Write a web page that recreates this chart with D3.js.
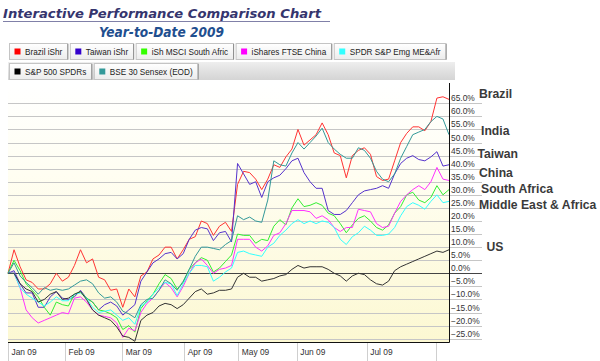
<!DOCTYPE html>
<html><head><meta charset="utf-8">
<script src="https://cdn.jsdelivr.net/npm/d3@7"></script>
<style>html,body{margin:0;padding:0;background:#fff;} svg{display:block;}</style>
</head><body><svg id="c" width="600" height="361"></svg>
<script>
// ---- data (percent change since 2 Jan 2009, sampled evenly over the trading period) ----
const brazil = [0,9,2.5,-2.5,-3.5,-6,-6,-4,0,-3,-1.5,3,9,4,5.5,-1.5,-2.5,-6.5,-6,-13,-6,-9,-1,0.5,5.5,7,10,10,5.5,9,13,14,20,19,14.5,18,19.5,16,34,39,38.5,36,32,36,41.5,40.5,44.5,47.5,55,49,51,53,57.5,53,46,45,36.5,45,47,48,45.5,37,35.5,36,43,50,53.5,56,56,54.5,58,67,67.5,66.5];
const taiwan = [0,1,-4,-7.5,-7.5,-13,-13,-9,-7,-9.5,-10,-9,-6.5,-9.5,-11,-14,-12,-11,-12.5,-16,-14,-12,-3,0.5,4,5.5,7.5,8,5.5,7.5,13,16.5,17.5,17,12.5,15.5,16,12,42,38,34,35,29,35,36.5,37.5,40,43,44,38.5,35,32.5,32.5,24,22.5,22.5,24,27,30,31.5,32,32.5,33.5,32.5,38,42,44,45,43.5,43,44.5,46.5,41,41.5];
const southAfrica = [0,5,1,-4,-6.5,-9,-13,-16,-11,-12,-12.5,-8,-7,-9.5,-11,-14,-14.5,-15.5,-17,-21.5,-20,-22.5,-13.5,-10.5,-8,-4,-0.5,-2,-6,-3.5,1.5,4,6,5,0.5,2,4.5,7,15,14.5,14.5,11.5,13,12.5,18,20.5,18.5,25,28.5,25.5,26,27,26,23,22,19,15.5,18.5,21,22,20,17.5,16.5,18.5,23,25.5,30,31,28,27,29,33.5,30,32];
const china = [0,0,-5.5,-14,-17,-19,-18,-17,-16,-15,-15.5,-9.5,-9,-11,-14,-16,-16.5,-17,-19,-24.5,-21,-22,-15,-11.5,-9.5,-6.5,-3.5,-5.5,-9,-5,0,4,5.5,3,0,1.5,2,3,13,13,13,10,8.5,10.5,14.5,15.5,19,24,24,24,23.5,21,22,20.5,17.5,16,17.5,17.5,24.5,24,23.5,19,17.5,18,23,27.5,30,32,33.5,32,35,40.5,36,35.5];
const meAfrica = [0,0,-5.5,-8,-9.5,-11,-12.5,-11,-9,-10.5,-10.5,-8,-7.5,-9.5,-13,-15,-14.5,-14,-16,-18,-17,-19.5,-12.5,-11,-8,-5.5,-3.5,-4,-8.5,-4,0,3,3,2.5,-3,-1.5,0.5,2,8,8.5,7.5,7,6.5,10,11.5,14.5,16.5,19,20.5,19,20,19,20,19.5,17.5,13,11,14,15.5,18,16.5,14.5,14.5,15,17.5,22,25.5,27,26,24.5,27.5,30,27,27.5];
const sp500 = [0,0,-4,-6,-7,-11,-10,-8,-7,-10,-9.5,-8,-7,-10,-14,-16,-17,-18,-20.5,-24,-24.5,-26,-18,-16,-15,-12.5,-11.5,-12,-13.5,-12,-9.5,-7,-6,-8,-7.5,-6.5,-6.5,-6,-1.5,0,-1.5,-1.5,-3,-2.5,-2,-1,-0.5,1.5,3,2,2.5,2.5,2.5,1.5,0,-1,-3,-1,0,-0.5,-2.5,-4,-4.5,-3,1,2.5,3.5,4.5,5.5,6.5,7.5,8.5,8,9];
const bse = [0,4,-1,-3.5,-5.5,-8,-5.5,-6.5,-6,-6.5,-6,-4.5,-3,-2.5,-4,-7.5,-9.5,-9,-11,-14.5,-15.5,-17,-12,-10,-9.5,-6.5,-2.5,-4,-6.5,-3,1.5,6.5,10,10,9.5,9,11,12.5,22,20.5,21.5,20,19.5,28,43,41.5,41,46,50,47.5,50,52.5,55.5,50,47.5,45.5,44,44,48,47,44,39,36,35,38,44,48.5,53,54,55,58,60,59,53];

const seriesNames = ["Brazil iShr","Taiwan iShr","iSh MSCI South Afric","iShares FTSE China","SPDR S&P Emg ME&Afr","S&P 500 SPDRs","BSE 30 Sensex (EOD)"];
const seriesValues = [brazil, taiwan, southAfrica, china, meAfrica, sp500, bse];
const lineColors = ["#ff3333","#5533cc","#33ee33","#ff33ff","#33ffff","#333333","#339999"];
const swatchColors = ["#ff0000","#3300cc","#33ff00","#ff00ff","#33ffff","#000000","#339999"];
const legendRowOf = [0,0,0,0,0,1,1];

const monthLabels = ["Jan 09","Feb 09","Mar 09","Apr 09","May 09","Jun 09","Jul 09",""];
const monthStarts = [0, 9.44, 18.92, 29.18, 38.12, 47.79, 59.38, 70.85]; // in sample-index units
const yTicks = d3.range(-25, 66, 5);

const annotNames = ["Brazil","India","Taiwan","China","South Africa","Middle East & Africa","US"];
const annotLevels = [68.6, 54.5, 45.9, 38.6, 32.5, 26.4, 10.3];

// ---- drawing ----
const svg = d3.select("#c");
const L = 8, R = 449, T = 83, B = 342;
const x = d3.scaleLinear().domain([0, brazil.length - 1]).range([L, R]);
const y = d3.scaleLinear().domain([-26.5, 72]).range([342.6, 85]);
const sans = "'Liberation Sans', Arial, sans-serif";

const defs = svg.append("defs");
const bg = defs.append("linearGradient").attr("id","bg").attr("x1",0).attr("y1",0).attr("x2",0).attr("y2",1);
bg.append("stop").attr("offset","0%").attr("stop-color","#ffffff");
bg.append("stop").attr("offset","35%").attr("stop-color","#fffef2");
bg.append("stop").attr("offset","100%").attr("stop-color","#fcf8d2");
const tabG = defs.append("linearGradient").attr("id","tab").attr("x1",0).attr("y1",0).attr("x2",0).attr("y2",1);
tabG.append("stop").attr("offset","0%").attr("stop-color","#ffffff");
tabG.append("stop").attr("offset","100%").attr("stop-color","#ececec");
const bandG = defs.append("linearGradient").attr("id","band").attr("x1",0).attr("y1",0).attr("x2",0).attr("y2",1);
bandG.append("stop").attr("offset","0%").attr("stop-color","#eeeeee");
bandG.append("stop").attr("offset","100%").attr("stop-color","#d4d4d4");

// Titles
svg.append("text").attr("x",3).attr("y",18.3)
  .attr("font-family","'DejaVu Sans', Verdana, sans-serif").attr("font-weight","bold").attr("font-style","italic")
  .attr("font-size",13).attr("fill","#35356e").attr("textLength",318).attr("lengthAdjust","spacingAndGlyphs")
  .text("Interactive Performance Comparison Chart");
svg.append("line").attr("x1",3).attr("x2",330).attr("y1",21.5).attr("y2",21.5).attr("stroke","#8080a8").attr("stroke-width",1);
svg.append("text").attr("x",99).attr("y",36.7)
  .attr("font-family","'DejaVu Sans', Verdana, sans-serif").attr("font-weight","bold").attr("font-style","italic")
  .attr("font-size",13.2).attr("fill","#1f4f8f").attr("textLength",125).attr("lengthAdjust","spacingAndGlyphs")
  .text("Year-to-Date 2009");

// Legend tabs
svg.append("rect").attr("x",8).attr("y",62).attr("width",447).attr("height",18).attr("fill","url(#band)");
const rowTop = [43, 63];
const rowX = [9, 9];
seriesNames.forEach((name, i) => {
  const r = legendRowOf[i];
  const g = svg.append("g");
  const rect = g.append("rect").attr("y", rowTop[r] + 0.5).attr("height", 16)
    .attr("fill","url(#tab)").attr("stroke","#c4c4c4");
  const t = g.append("text").attr("y", rowTop[r] + 11.5)
    .attr("font-family", sans).attr("font-size", 8.2).attr("fill","#222").text(name);
  const w = t.node().getComputedTextLength() + 21;
  const x0 = rowX[r];
  rect.attr("x", x0 + 0.5).attr("width", w);
  g.append("line").attr("x1", x0 + w + 0.5).attr("x2", x0 + w + 0.5).attr("y1", rowTop[r] + 1).attr("y2", rowTop[r] + 16.5).attr("stroke","#8c8c8c");
  g.append("rect").attr("x", x0 + 5.5).attr("y", rowTop[r] + 5.5).attr("width",6).attr("height",6).attr("fill", swatchColors[i]);
  t.attr("x", x0 + 16);
  rowX[r] = x0 + w + 2.5;
});

// Date range and copyright
svg.append("text").attr("x",10).attr("y",95.5).attr("font-family",sans).attr("font-size",8.2).attr("fill","#222")
  .text("2 January 2009 - 7 August 2009");
svg.append("text").attr("x",447).attr("y",95).attr("text-anchor","end").attr("font-family",sans).attr("font-size",8.3)
  .attr("fill","#cfcfcf").text("Copyright, StockCharts.com");

// Plot background
svg.append("rect").attr("x",L).attr("y",T).attr("width",R-L).attr("height",B-T).attr("fill","url(#bg)");

// Gridlines + y labels
const py = v => Math.round(y(v)) + 0.5;
svg.append("g").selectAll("line").data(yTicks).join("line")
  .attr("x1",L).attr("x2",482).attr("y1",py).attr("y2",py)
  .attr("stroke", d => d === 0 ? "#444" : "#c6c6c6").attr("stroke-width",1);
svg.append("g").selectAll("text").data(yTicks).join("text")
  .attr("x",451).attr("y", d => y(d) - 2)
  .attr("font-family",sans).attr("font-size",8.4).attr("fill","#333")
  .text(d => d3.format(".1f")(d) + "%");

// Month separators and labels
svg.append("g").selectAll("line").data(monthStarts).join("line")
  .attr("x1", d => Math.round(x(d)) + 0.5).attr("x2", d => Math.round(x(d)) + 0.5)
  .attr("y1", B).attr("y2", 361).attr("stroke","#cfcfcf");
svg.append("g").selectAll("text").data(monthLabels).join("text")
  .attr("x", (d, i) => x(monthStarts[i]) + 3.5).attr("y", 355)
  .attr("font-family",sans).attr("font-size",8.4).attr("fill","#333").text(d => d);

// Series lines
const line = d3.line().x((d, i) => x(i)).y(d => y(d));
svg.append("g").selectAll("path").data(seriesValues).join("path")
  .attr("d", line).attr("fill","none")
  .attr("stroke", (d, i) => lineColors[i]).attr("stroke-width",1).attr("stroke-linejoin","round");

// Frame
svg.append("line").attr("x1",L).attr("x2",R+0.5).attr("y1",B+0.5).attr("y2",B+0.5).attr("stroke","#111");
svg.append("line").attr("x1",R+0.5).attr("x2",R+0.5).attr("y1",T).attr("y2",B+0.5).attr("stroke","#111");

// Right-hand annotations
const annotDx = [479, 481, 477.5, 479, 481, 479, 486.5];
svg.append("g").selectAll("text").data(annotNames).join("text")
  .attr("x", (d, i) => annotDx[i]).attr("y", (d, i) => y(annotLevels[i]))
  .attr("dy","0.36em").attr("font-family",sans).attr("font-weight","bold").attr("font-size",12.2)
  .attr("fill","#3a3a3a").text(d => d);
</script></body></html>
